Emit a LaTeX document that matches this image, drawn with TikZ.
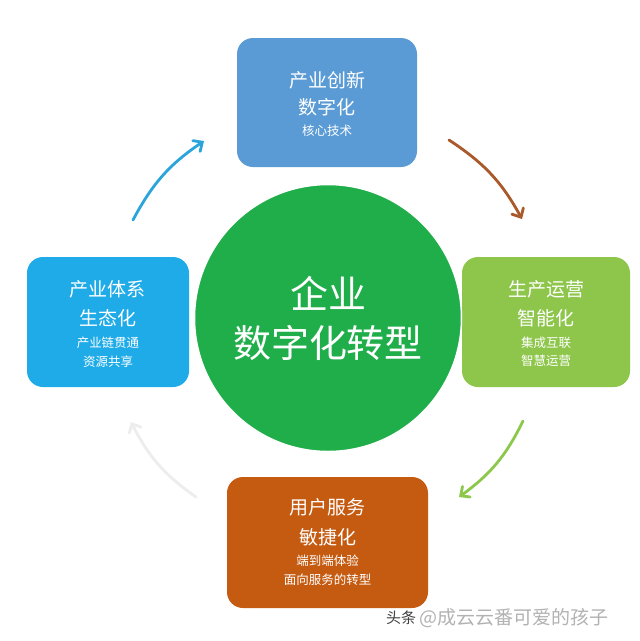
\documentclass[tikz,border=0pt]{standalone}
\usepackage{fontspec}
\newfontfamily\cjk{Noto Sans CJK SC}
\usetikzlibrary{arrows.meta}
\definecolor{cblue}{HTML}{5B9BD5}
\definecolor{csky}{HTML}{1EABE8}
\definecolor{clime}{HTML}{8DC64A}
\definecolor{corange}{HTML}{C55A11}
\definecolor{cgreen}{HTML}{20AE4B}
\definecolor{abrown}{HTML}{A9592A}
\definecolor{ablue}{HTML}{2AA5DC}
\definecolor{agreen}{HTML}{8CC84B}
\definecolor{agray}{HTML}{EDEDED}
\tikzset{
  box/.style={rounded corners=16pt, inner sep=0pt, text=white, align=center, font=\cjk},
  big/.style={font=\cjk\fontsize{19}{29}\selectfont},
  small/.style={font=\cjk\fontsize{12.5}{19}\selectfont},
  cyc/.style={line width=2.8pt, line cap=round, -{Straight Barb[length=7pt,width=13pt,line cap=round]}, bend left=14},
}
\begin{document}
\begin{tikzpicture}[x=1pt,y=-1pt]
\useasboundingbox (0,0) rectangle (640,641);
\fill[white] (0,0) rectangle (640,641);
% boxes
\node[box, fill=cblue, minimum width=180pt, minimum height=129pt] (top) at (327,102.5) {};
\node[box, fill=csky, minimum width=162pt, minimum height=130pt] (left) at (108,322) {};
\node[box, fill=clime, minimum width=168pt, minimum height=130pt] (right) at (546,322) {};
\node[box, fill=corange, minimum width=201pt, minimum height=131pt] (bottom) at (327.5,542.5) {};
% circle
\node[circle, fill=cgreen, draw=white, line width=1.5pt, minimum size=267pt, inner sep=0pt] (center) at (328,318) {};
% texts
\node[box, big] (t1) at (327,80) {产业创新};
\node[box, big] (t2) at (327,107) {数字化};
\node[box, small] (t3) at (327,131) {核心技术};
\node[box, big] (l1) at (108,289) {产业体系};
\node[box, big] (l2) at (108,318) {生态化};
\node[box, small] (l3) at (108,343) {产业链贯通};
\node[box, small] (l4) at (108,362) {资源共享};
\node[box, big] (r1) at (546,289) {生产运营};
\node[box, big] (r2) at (546,318) {智能化};
\node[box, small] (r3) at (546,343) {集成互联};
\node[box, small] (r4) at (546,361) {智慧运营};
\node[box, big] (b1) at (327.5,507) {用户服务};
\node[box, big] (b2) at (327.5,537) {敏捷化};
\node[box, small] (b3) at (327.5,561) {端到端体验};
\node[box, small] (b4) at (327.5,580) {面向服务的转型};
\node[box, font=\cjk\fontsize{38}{48}\selectfont] (c1) at (328,293) {企业};
\node[box, font=\cjk\fontsize{38}{48}\selectfont] (c2) at (328,343) {数字化转型};
% arrows
\coordinate (a1s) at (133,220); \coordinate (a1e) at (204,141);
\coordinate (a2s) at (449,140); \coordinate (a2e) at (522,219);
\coordinate (a3s) at (523,421); \coordinate (a3e) at (459,497);
\coordinate (a4s) at (196,497); \coordinate (a4e) at (131,422);
\draw[cyc, ablue] (a1s) to (a1e);
\draw[cyc, abrown] (a2s) to (a2e);
\draw[cyc, agreen] (a3s) to (a3e);
\draw[cyc, agray] (a4s) to (a4e);
% watermark
\node[anchor=west, inner sep=0pt, text=black!75, font=\cjk\fontsize{15}{18}\selectfont] (wm1) at (386,618) {头条};
\node[anchor=west, inner sep=0pt, text=black!30, font=\cjk\fontsize{19}{22}\selectfont] (wm2) at (wm1.east) {\,@成云云番可爱的孩子};
\end{tikzpicture}
\end{document}
